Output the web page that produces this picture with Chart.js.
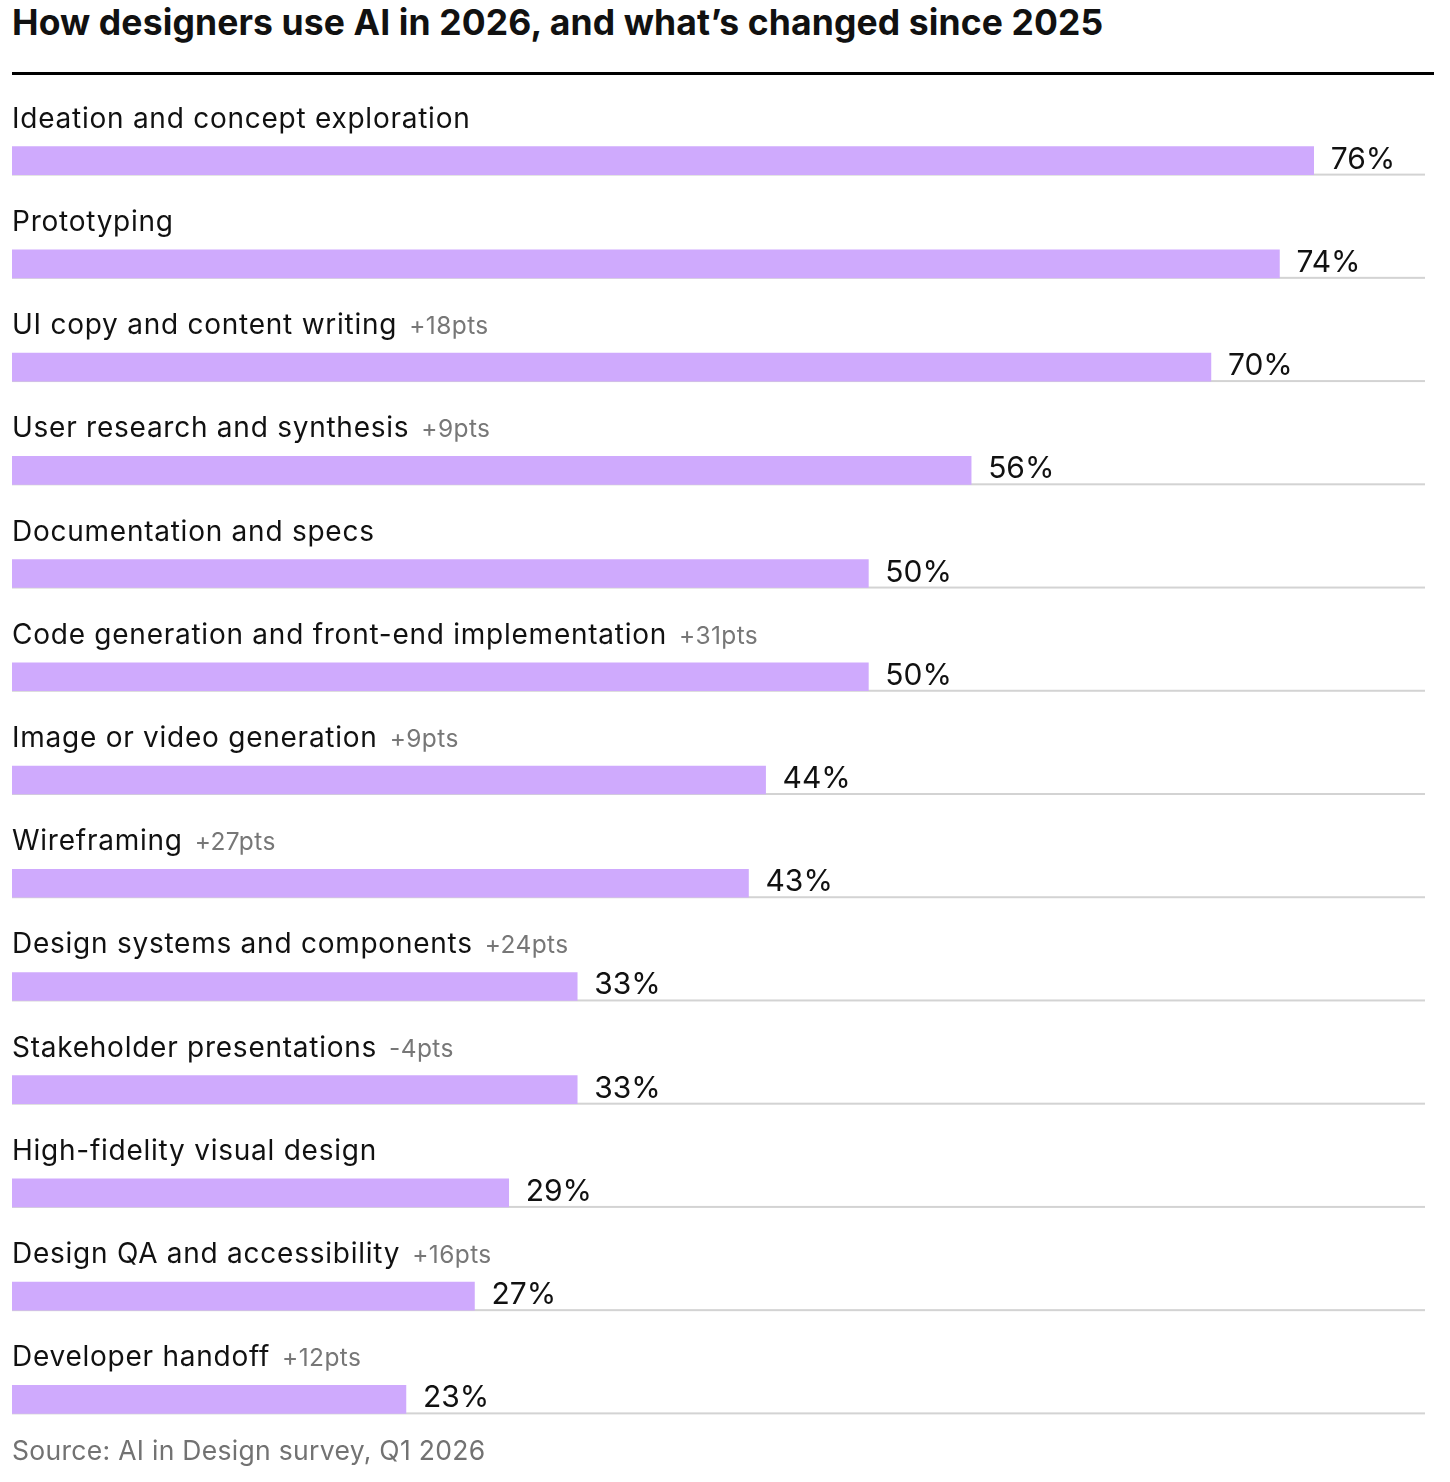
<!DOCTYPE html>
<html>
<head>
<meta charset="utf-8">
<script src="https://cdn.jsdelivr.net/npm/chart.js@4/dist/chart.umd.min.js"></script>
<style>
  html, body { margin: 0; padding: 0; background: #fff; }
  #wrap { position: relative; width: 1450px; height: 1482px; }
  #wrap canvas { position: absolute; left: 0; top: 0; }
  h1 {
    position: absolute; left: 12px; top: 1px; margin: 0;
    font: 700 35.5px Inter, sans-serif; letter-spacing: 0.12px; color: #111;
    white-space: nowrap;
  }
  #rule { position: absolute; left: 12px; top: 72px; width: 1422px; height: 3px; background: #000; }
  #source {
    position: absolute; left: 12px; top: 1434px; margin: 0;
    font: 400 26.5px Inter, sans-serif; letter-spacing: 0.3px; color: #727272; white-space: nowrap;
  }
</style>
</head>
<body>
<div id="wrap">
  <h1>How designers use AI in 2026, and what’s changed since 2025</h1>
  <div id="rule"></div>
  <canvas id="chart"></canvas>
  <p id="source">Source: AI in Design survey, Q1 2026</p>
</div>
<script>
const categories = [
  'Ideation and concept exploration',
  'Prototyping',
  'UI copy and content writing',
  'User research and synthesis',
  'Documentation and specs',
  'Code generation and front-end implementation',
  'Image or video generation',
  'Wireframing',
  'Design systems and components',
  'Stakeholder presentations',
  'High-fidelity visual design',
  'Design QA and accessibility',
  'Developer handoff'
];
const values = [76, 74, 70, 56, 50, 50, 44, 43, 33, 33, 29, 27, 23];
const changes = ['', '', '+18pts', '+9pts', '', '+31pts', '+9pts', '+27pts', '+24pts', '-4pts', '', '+16pts', '+12pts'];

const BAR_H = 28;

// gray track under each bar, plus the row labels and value labels
const rowDecor = {
  id: 'rowDecor',
  beforeDatasetsDraw(chart) {
    const ctx = chart.ctx;
    const area = chart.chartArea;
    const meta = chart.getDatasetMeta(0);
    ctx.save();
    ctx.fillStyle = '#d3d3d3';
    meta.data.forEach(bar => {
      const bottom = bar.y + BAR_H / 2;
      ctx.fillRect(area.left, bottom - 1, area.right - area.left, 2);
    });
    ctx.restore();
  },
  afterDatasetsDraw(chart) {
    const ctx = chart.ctx;
    const area = chart.chartArea;
    const meta = chart.getDatasetMeta(0);
    ctx.save();
    ctx.textBaseline = 'alphabetic';
    meta.data.forEach((bar, i) => {
      const top = bar.y - BAR_H / 2;
      const bottom = bar.y + BAR_H / 2;
      ctx.font = '400 28px Inter, sans-serif';
      ctx.letterSpacing = '0.75px';
      ctx.fillStyle = '#111';
      ctx.fillText(categories[i], area.left, top - 19);
      if (changes[i]) {
        const w = ctx.measureText(categories[i]).width;
        ctx.font = '400 24.5px Inter, sans-serif';
        ctx.letterSpacing = '0.4px';
        ctx.fillStyle = '#777';
        ctx.fillText(changes[i], area.left + w + 12, top - 19);
      }
      ctx.font = '400 30px Inter, sans-serif';
      ctx.letterSpacing = '0px';
      ctx.fillStyle = '#111';
      ctx.fillText(values[i] + '%', bar.x + 17, bottom - 6);
    });
    ctx.restore();
  }
};

new Chart(document.getElementById('chart'), {
  type: 'bar',
  data: {
    labels: categories,
    datasets: [{
      data: values,
      backgroundColor: '#cfaafd',
      borderWidth: 0,
      barThickness: BAR_H
    }]
  },
  options: {
    indexAxis: 'y',
    responsive: true,
    maintainAspectRatio: false,
    animation: false,
    layout: { padding: { left: 12, right: 25, top: 109, bottom: 31 } },
    scales: {
      x: { min: 0, max: 82.5, display: false },
      y: { display: false }
    },
    plugins: {
      legend: { display: false },
      tooltip: { enabled: false }
    }
  },
  plugins: [rowDecor]
});
</script>
</body>
</html>
